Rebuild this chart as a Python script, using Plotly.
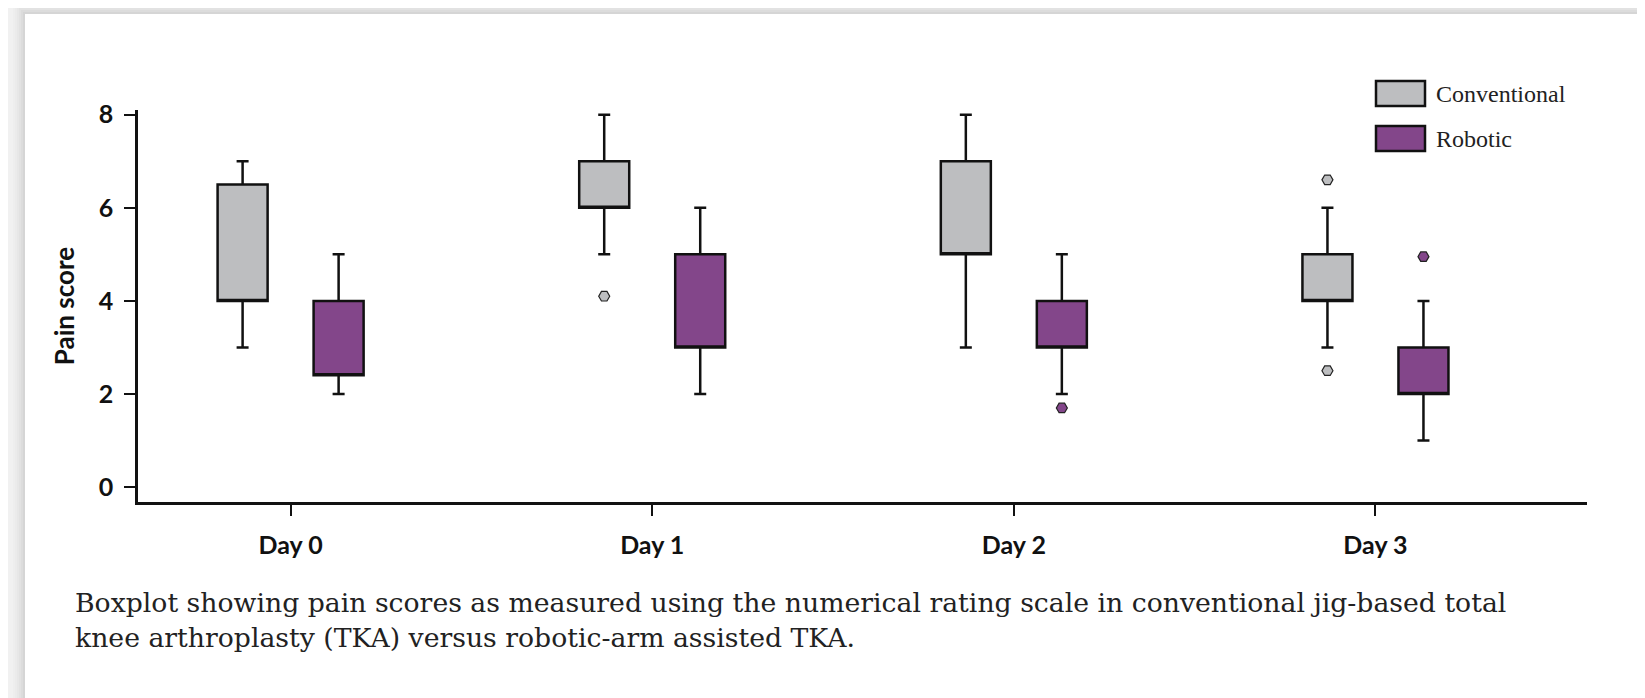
import plotly.graph_objects as go

# ---------------- data ----------------
categories = ["Day 0", "Day 1", "Day 2", "Day 3"]

conv_lower = [3, 5, 3, 3]
conv_q1 = [4, 6, 5, 4]
conv_median = [4, 6, 5, 4]      # median line not drawn separately in source; coincides with box edge
conv_q3 = [6.5, 7, 7, 5]
conv_upper = [7, 8, 8, 6]
conv_outliers = [[None], [4.1], [None], [6.6, 2.5]]

rob_lower = [2, 2, 2, 1]
rob_q1 = [2.4, 3, 3, 2]
rob_median = [2.4, 3, 3, 2]
rob_q3 = [4, 5, 4, 3]
rob_upper = [5, 6, 5, 4]
rob_outliers = [[None], [None], [1.7], [4.95]]

y_ticks = [0, 2, 4, 6, 8]
series_names = ["Conventional", "Robotic"]
series_colors = ["#BDBEC0", "#83468A"]
caption = ("Boxplot showing pain scores as measured using the numerical rating scale in conventional jig-based total"
           "<br>knee arthroplasty (TKA) versus robotic-arm assisted TKA.")

# ---------------- figure ----------------
fig = go.Figure()

for name, color, lo, q1, med, q3, up, outs in [
    (series_names[0], series_colors[0], conv_lower, conv_q1, conv_median, conv_q3, conv_upper, conv_outliers),
    (series_names[1], series_colors[1], rob_lower, rob_q1, rob_median, rob_q3, rob_upper, rob_outliers),
]:
    fig.add_trace(go.Box(
        name=name,
        x=categories,
        y=outs,
        lowerfence=lo, q1=q1, median=med, q3=q3, upperfence=up,
        orientation="v",
        boxpoints="outliers",
        pointpos=0,
        jitter=0,
        whiskerwidth=0.24,
        fillcolor=color,
        line=dict(color="#111111", width=2.5),
        marker=dict(symbol="hexagon2", size=11, color=color,
                    line=dict(color="#222222", width=1.2)),
        showlegend=False,
    ))

# the page body adds an 8px margin, so the figure is sized/offset to compensate
OFF = 8
W, H = 1645 - OFF, 698 - OFF
# plot area in page pixels: x 138..1587, y 110..502
ML, MT = 138 - OFF, 110 - OFF
MR = W - (1587 - OFF)
MB = H - (502 - OFF)
PW, PH = W - ML - MR, H - MT - MB


def px(X):
    return (X - OFF - ML) / PW


def py(Y):
    return (MT + PH - (Y - OFF)) / PH


shapes = []
# page background card with soft shadow
for i, a in enumerate([0.010, 0.012, 0.015, 0.018, 0.022, 0.028]):
    off = 12 - 2 * i
    shapes.append(dict(type="rect", xref="paper", yref="paper", layer="below",
                       x0=px(25 - off), x1=px(1700), y0=py(760), y1=py(14 - off),
                       fillcolor=f"rgba(0,0,0,{a})", line=dict(width=0)))
shapes.append(dict(type="rect", xref="paper", yref="paper", layer="below",
                   x0=px(25), x1=px(1700), y0=py(760), y1=py(14),
                   fillcolor="white", line=dict(width=0)))

# custom legend (large swatches)
annotations = []
leg_rows = [(81, 106), (126, 151)]
for (top, bot), name, color in zip(leg_rows, series_names, series_colors):
    shapes.append(dict(type="rect", xref="paper", yref="paper",
                       x0=px(1376), x1=px(1425), y0=py(bot), y1=py(top),
                       fillcolor=color, line=dict(color="#111111", width=2.5)))
    annotations.append(dict(xref="paper", yref="paper", x=px(1434), y=py((top + bot) / 2),
                            xanchor="left", yanchor="middle", showarrow=False, text=name,
                            font=dict(family="Liberation Serif", size=24, color="#222222")))

annotations.append(dict(xref="paper", yref="paper", x=px(73), y=py(585),
                        xanchor="left", yanchor="top", align="left", showarrow=False,
                        text=caption,
                        font=dict(family="DejaVu Serif", size=26.7, color="#222222")))

tick_font = dict(family="Lato", size=25, color="#111111", weight="bold")

fig.update_layout(
    width=W, height=H,
    margin=dict(l=ML, r=MR, t=MT, b=MB, pad=0),
    paper_bgcolor="#F1F1F1",
    plot_bgcolor="rgba(0,0,0,0)",
    boxmode="group",
    boxgap=0.469,
    boxgroupgap=0.479,
    showlegend=False,
    shapes=shapes,
    annotations=annotations,
    xaxis=dict(
        type="category",
        range=[-0.422, 3.585],
        showline=True, linewidth=3, linecolor="#111111",
        ticks="outside", ticklen=11, tickwidth=2, tickcolor="#111111",
        tickfont=tick_font, ticklabelstandoff=8,
        showgrid=False, zeroline=False,
    ),
    yaxis=dict(
        range=[-0.32, 8.1],
        tickvals=y_ticks,
        showline=True, linewidth=2.5, linecolor="#111111",
        ticks="outside", ticklen=11, tickwidth=2, tickcolor="#111111",
        tickfont=tick_font, ticklabelstandoff=6,
        title=dict(text="Pain score", font=dict(family="Lato", size=26, color="#111111", weight="bold"),
                   standoff=17),
        showgrid=False, zeroline=False,
    ),
)

fig.write_html("out.html")
